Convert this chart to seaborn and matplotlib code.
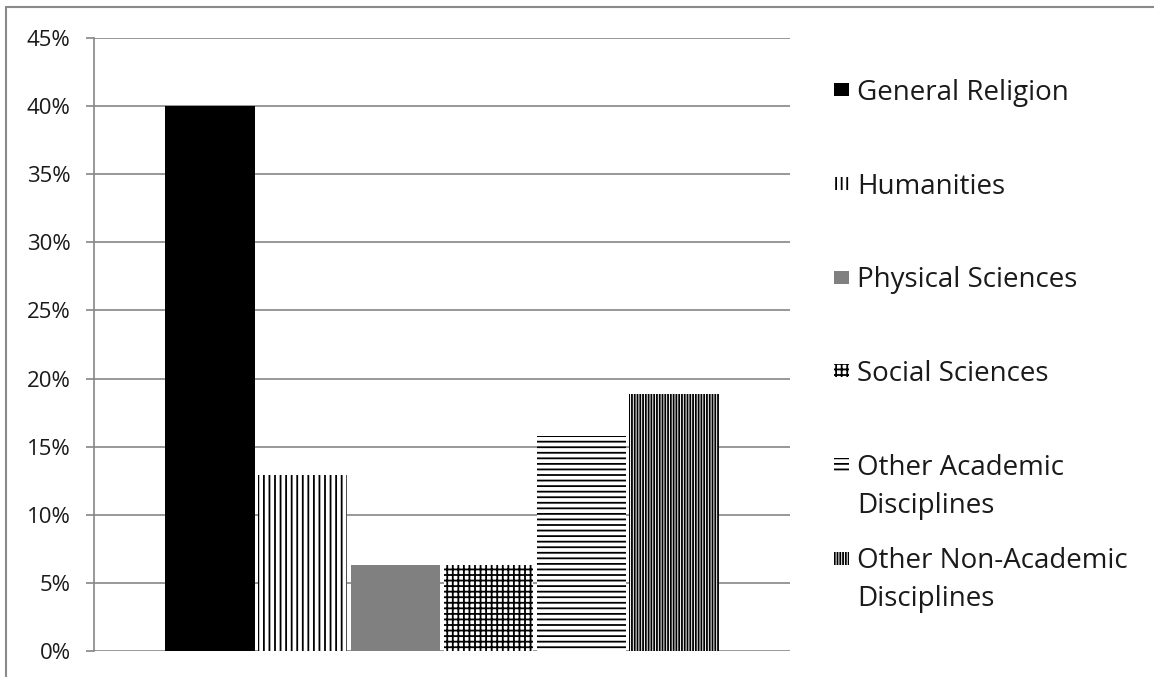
import matplotlib
matplotlib.use("Agg")
import matplotlib.pyplot as plt
from matplotlib.lines import Line2D
from matplotlib.patches import Rectangle
from matplotlib.legend_handler import HandlerPatch
from matplotlib.ticker import PercentFormatter, MultipleLocator
import pandas as pd
import seaborn as sns

# Share of respondents by discipline
disciplines = [
    "General Religion",
    "Humanities",
    "Physical Sciences",
    "Social Sciences",
    "Other Academic Disciplines",
    "Other Non-Academic Disciplines",
]
legend_labels = [
    "General Religion",
    "Humanities",
    "Physical Sciences",
    "Social Sciences",
    "Other Academic\nDisciplines",
    "Other Non-Academic\nDisciplines",
]
shares = [0.400, 0.129, 0.063, 0.063, 0.158, 0.189]

face_colors = ["#000000", "#ffffff", "#808080", "#ffffff", "#ffffff", "#ffffff"]
hatches = [None, "|||", None, "+++", "---", "||||||"]

sns.set_style("white")
plt.rcParams["font.family"] = ["Open Sans", "DejaVu Sans"]
plt.rcParams["hatch.linewidth"] = 1.3

W, H = 1154, 677
df = pd.DataFrame({"group": [""] * len(disciplines),
                   "discipline": disciplines,
                   "share": shares})

fig = plt.figure(figsize=(W / 100, H / 100), dpi=100)
ax = fig.add_axes([94 / W, 1 - 651 / H, (790 - 94) / W, (651 - 38) / H])

sns.barplot(data=df, x="group", y="share", hue="discipline",
            hue_order=disciplines, palette=face_colors, dodge=True,
            gap=0.04, saturation=1, legend=False, ax=ax)

for patch, fc, h in zip(ax.patches, face_colors, hatches):
    patch.set_facecolor(fc)
    patch.set_edgecolor("#000000")
    patch.set_linewidth(0)
    if h:
        patch.set_hatch(h)

grid_color = "#868686"
text_color = "#1a1a1a"
ax.set_ylim(0, 0.45)
ax.yaxis.set_major_locator(MultipleLocator(0.05))
ax.yaxis.set_major_formatter(PercentFormatter(1.0, decimals=0))
ax.yaxis.grid(True, color=grid_color, linewidth=1.2)
ax.set_axisbelow(True)
for side in ["top", "right", "bottom"]:
    ax.spines[side].set_visible(False)
ax.spines["left"].set_color(grid_color)
ax.spines["left"].set_linewidth(1.2)
ax.tick_params(axis="y", length=5.8, width=1.2, color=grid_color,
               labelsize=16, labelcolor=text_color, pad=11, left=True)
ax.tick_params(axis="x", length=0, labelbottom=False)
ax.set_xlabel("")
ax.set_ylabel("")


# Small key swatch sitting level with the first line of its label
def key_swatch(legend, orig_handle, xdescent, ydescent, width, height, fontsize):
    sw_h = 13 / 100 * 72
    y = -ydescent + (height - sw_h) / 2
    return Rectangle((-xdescent, y), width, sw_h)


legend_fs = 20
first_line_y = 90.5      # pixel row of the first key's text centre
key_step = 93.7          # pixel distance between consecutive keys
for i, (patch, label) in enumerate(zip(ax.patches, legend_labels)):
    y_px = first_line_y + i * key_step - 0.42 * legend_fs * 100 / 72
    leg = fig.legend([patch], [label], loc="upper left",
                     bbox_to_anchor=(834 / W, 1 - y_px / H), frameon=False,
                     fontsize=legend_fs, handlelength=15 / (legend_fs * 100 / 72),
                     handleheight=0.84, handletextpad=0.3, borderpad=0,
                     borderaxespad=0, labelcolor=text_color,
                     handler_map={patch: HandlerPatch(patch_func=key_swatch)})
    for text in leg.get_texts():
        text.set_linespacing(1.48)
    for column in leg._legend_handle_box.get_children():
        for row in column.get_children():
            row.align = "top"

# Chart frame edges
fig.add_artist(Line2D([6 / W, 6 / W], [0, 1 - 7 / H],
                      transform=fig.transFigure, color="#8a8a8a", linewidth=1.5))
fig.add_artist(Line2D([6 / W, 1], [1 - 7 / H, 1 - 7 / H],
                      transform=fig.transFigure, color="#8a8a8a", linewidth=1.5))

fig.savefig("out.png", dpi=100, facecolor="white")
